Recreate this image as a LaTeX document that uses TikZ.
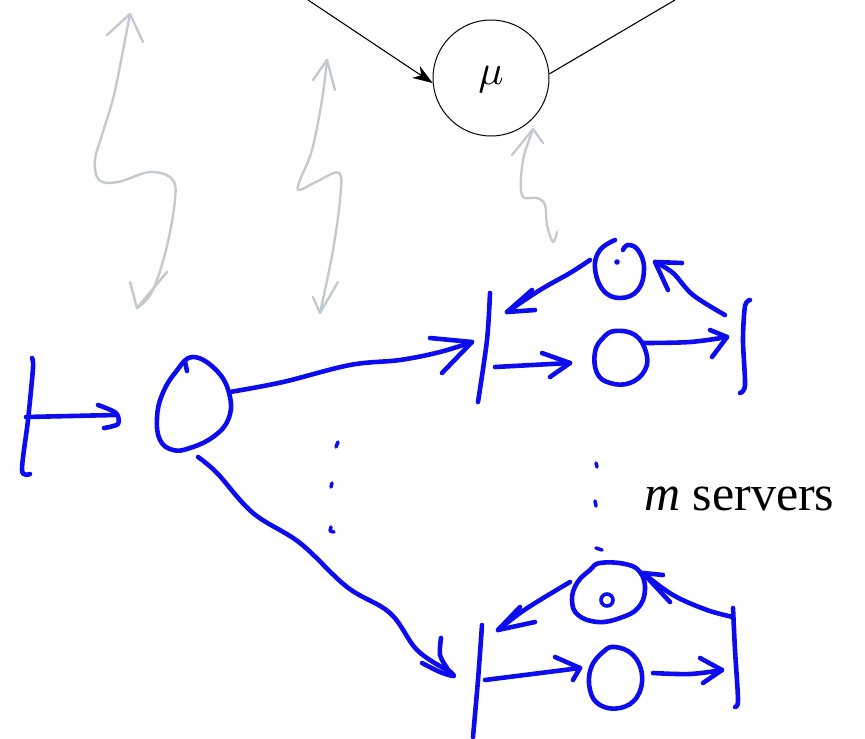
\documentclass[tikz,border=0pt]{standalone}
\usepackage{fontspec}
\setmainfont{Liberation Serif}
\usetikzlibrary{arrows.meta}
\definecolor{inkblue}{RGB}{12,12,238}
\definecolor{chalkgrey}{RGB}{196,201,207}
\begin{document}
\begin{tikzpicture}[x=1pt,y=-1pt,
  pen/.style={draw=inkblue,line width=4.6pt,line cap=round,line join=round},
  chalk/.style={draw=chalkgrey,line width=2.4pt,line cap=round,line join=round},
  fineline/.style={draw=black,line width=1.1pt}]
\useasboundingbox (0,0) rectangle (865,739);

% ---- service station mu ----
\node[circle,draw,line width=1pt,minimum size=116pt,inner sep=0pt] (mu) at (491,78) {};
\node[scale=4.2] (mulabel) at (491,80) {$\mu$};
\draw[fineline,-{Stealth[length=20pt,width=14pt,inset=6pt]}] (308,0) -- (mu.185);
\draw[fineline] (mu.4) -- (675,0);

% ---- grey double-headed squiggles ----
\draw[chalk] plot[smooth,tension=0.6] coordinates
  {(130,14) (124,45) (114,95) (102,135) (95,160) (99,180) (118,182) (150,172) (172,179) (175,200) (166,250) (152,292) (137,308)};
\draw[chalk] (107,35) -- (130,14) -- (143,42);
\draw[chalk] (130,282) -- (137,308) -- (167,272);

\draw[chalk] plot[smooth,tension=0.6] coordinates
  {(327,60) (322,100) (312,150) (300,180) (299,190) (316,182) (339,173) (340,200) (333,250) (325,290) (320,313)};
\draw[chalk] (313,80) -- (327,60) -- (335,90);
\draw[chalk] (313,297) -- (320,313) -- (338,282);

\draw[chalk] plot[smooth,tension=0.6] coordinates
  {(533,130) (523,160) (522,195) (537,198) (545,205) (547,225) (553,242) (557,232)};
\draw[chalk] (512,155) -- (533,129) -- (543,143);

% ---- source and dispatcher ----
\draw[pen] plot[smooth,tension=0.5] coordinates {(32,358) (33,368) (28,420) (22,470) (30,474)};
\draw[pen] (26,417) -- (115,415);
\draw[pen] plot[smooth,tension=0.5] coordinates {(98,405) (116,413) (118,424) (104,428)};

\draw[pen] plot[smooth cycle,tension=0.7] coordinates
  {(193,357) (218,372) (230,397) (228,420) (213,437) (190,448) (173,450) (160,440) (157,418) (162,395) (175,373)};
\draw[pen] (185,362) -- (187,371);

% dispatcher to upper server group
\draw[pen] plot[smooth,tension=0.6] coordinates
  {(230,392) (283,382) (350,365) (400,360) (440,352) (472,342)};
\draw[pen] (430,338) -- (472,342) -- (442,373);

% dispatcher to lower server group
\draw[pen] plot[smooth,tension=0.6] coordinates
  {(198,457) (217,473) (253,513) (300,543) (347,587) (390,613) (417,650) (447,670)};
\draw[pen] plot[smooth,tension=0.5] coordinates {(441,638) (440,655) (447,668)};
\draw[pen] plot[smooth,tension=0.5] coordinates {(422,663) (440,672) (454,676) (446,668)};

% vertical dots between the branches
\draw[pen,line width=3.6pt] (338,442) -- (336,447);
\draw[pen,line width=3.6pt] (332,483) -- (331,487);
\draw[pen,line width=3.6pt] (331,527) -- (330,531) -- (334,532);

% ---- upper server group ----
\draw[pen] plot[smooth,tension=0.5] coordinates {(490,293) (487,340) (478,402)};
\draw[pen] plot[smooth,tension=0.7] coordinates
  {(615,240) (600,250) (595,268) (603,290) (620,298) (638,290) (644,268) (638,250) (628,245) (623,250)};
\fill[inkblue] (617,262) circle (2.8pt);
\draw[pen] plot[smooth,tension=0.6] coordinates {(590,260) (570,273) (540,290) (507,312)};
\draw[pen] (532,290) -- (507,312) -- (535,310);
\draw[pen] plot[smooth,tension=0.6] coordinates {(725,315) (693,295) (673,273) (655,262)};
\draw[pen] (682,263) -- (655,262) -- (668,290);
\draw[pen] (495,367) -- (570,363);
\draw[pen] (542,353) -- (570,363) -- (550,377);
\draw[pen] plot[smooth cycle,tension=0.7] coordinates
  {(615,331) (635,335) (646,352) (645,370) (630,383) (610,383) (597,373) (595,352) (603,338)};
\draw[pen] plot[smooth,tension=0.6] coordinates {(643,343) (690,342) (727,337)};
\draw[pen] (710,330) -- (727,337) -- (712,357);
\draw[pen] plot[smooth,tension=0.5] coordinates {(750,300) (745,306) (743,340) (745,385) (740,393)};

% dots between the server groups
\draw[pen,line width=3.6pt] (596,463) -- (597,467);
\draw[pen,line width=3.6pt] (595,501) -- (596,506);
\draw[pen,line width=3.6pt] (596,548) -- (602,550);

\node[font=\fontsize{50}{50}\selectfont,anchor=base west,inner sep=0pt] (lbl) at (644,510)
  {\textit{m} servers};

% ---- lower server group ----
\draw[pen] plot[smooth cycle,tension=0.7] coordinates
  {(600,563) (625,564) (640,572) (645,590) (638,608) (620,618) (598,622) (578,615) (572,600) (577,583) (590,570)};
\draw[pen,line width=3.6pt] (607,600) ellipse (6pt and 6pt);
\draw[pen] plot[smooth,tension=0.6] coordinates {(570,582) (540,600) (520,613) (498,630)};
\draw[pen] (520,607) -- (498,630) -- (535,622);
\draw[pen] plot[smooth,tension=0.6] coordinates {(733,617) (707,610) (673,595) (643,573)};
\draw[pen] (663,575) -- (643,573) -- (670,602);
\draw[pen] plot[smooth,tension=0.5] coordinates {(733,608) (735,650) (738,700) (735,707)};
\draw[pen] plot[smooth,tension=0.5] coordinates {(482,625) (478,680) (473,737)};
\draw[pen] (485,680) -- (580,668);
\draw[pen] (555,657) -- (580,668) -- (573,680);
\draw[pen] plot[smooth cycle,tension=0.7] coordinates
  {(615,647) (633,655) (642,675) (637,697) (620,708) (600,705) (590,690) (591,668) (603,652)};
\draw[pen] plot[smooth,tension=0.6] coordinates {(653,673) (690,674) (722,670)};
\draw[pen] (700,658) -- (722,670) -- (703,683);
\end{tikzpicture}
\end{document}
